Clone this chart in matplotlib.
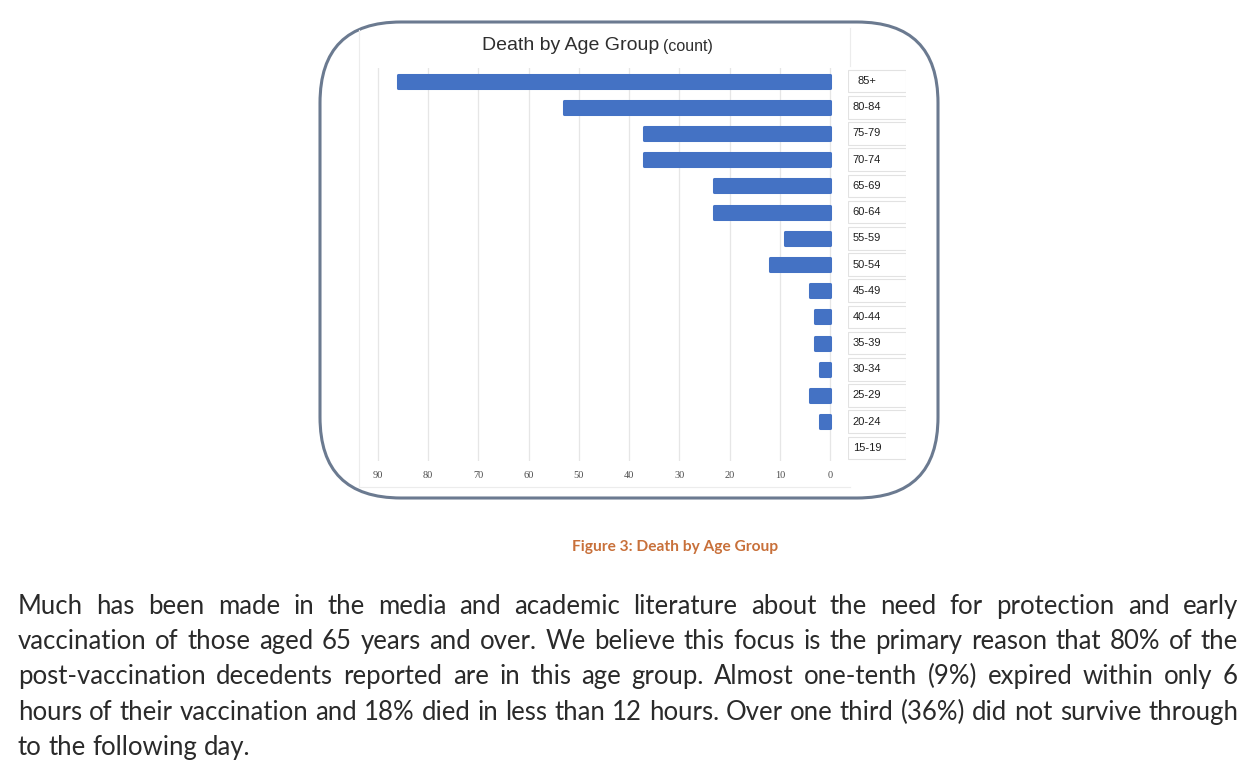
import matplotlib
matplotlib.use("Agg")
import matplotlib.pyplot as plt
from matplotlib.patches import FancyBboxPatch, Rectangle

W, H = 1245, 769

age_groups = ["85+", "80-84", "75-79", "70-74", "65-69", "60-64", "55-59", "50-54",
              "45-49", "40-44", "35-39", "30-34", "25-29", "20-24", "15-19"]
deaths = [86, 53, 37, 37, 23, 23, 9, 12, 4, 3, 3, 2, 4, 2, 0]
ticks = [90, 80, 70, 60, 50, 40, 30, 20, 10, 0]

caption = "Figure 3: Death by Age Group"
body_lines = [
    "Much has been made in the media and academic literature about the need for protection and early",
    "vaccination of those aged 65 years and over. We believe this focus is the primary reason that 80% of the",
    "post-vaccination decedents reported are in this age group. Almost one-tenth (9%) expired within only 6",
    "hours of their vaccination and 18% died in less than 12 hours. Over one third (36%) did not survive through",
    "to the following day.",
]

fig = plt.figure(figsize=(W / 100, H / 100), dpi=100)
r = fig.canvas.get_renderer()


def fx(px):
    return px / W


def fy(py):
    return 1 - py / H


def px_axes(x0, y0, x1, y1):
    return fig.add_axes([fx(x0), fy(y1), fx(x1) - fx(x0), fy(y0) - fy(y1)])


def text_width(s, **kw):
    t = fig.text(0, 0, s, **kw)
    w = t.get_window_extent(r).width
    t.remove()
    return w


# rounded frame round the chart
frame = FancyBboxPatch((fx(320), fy(498)), fx(938) - fx(320), fy(22) - fy(498),
                       boxstyle="round,pad=0,rounding_size=0.065",
                       transform=fig.transFigure, facecolor="white",
                       edgecolor="#6b7a90", linewidth=2.2, mutation_aspect=W / H,
                       zorder=-5)
fig.patches.append(frame)

# faint chart-area borders
fig.add_artist(plt.Line2D([fx(359), fx(359)], [fy(30), fy(487)], color="#ececec", lw=0.8))
fig.add_artist(plt.Line2D([fx(359), fx(850)], [fy(487), fy(487)], color="#ececec", lw=0.8))
fig.add_artist(plt.Line2D([fx(850), fx(850)], [fy(28), fy(66)], color="#ececec", lw=0.8))

# bar chart
ax = px_axes(359, 68, 848, 461)
ax.patch.set_alpha(0)
x0_px, x90_px = 830, 378
per_unit = (x0_px - x90_px) / 90
ax.set_xlim(90 + (x90_px - 359) / per_unit, -(848 - x0_px) / per_unit)
ax.set_ylim(len(age_groups) - 0.5, -0.5)
ax.barh(range(len(age_groups)), deaths, height=0.5, color="#4472c4",
        edgecolor="#4472c4", linewidth=[2.2 if d > 0 else 0 for d in deaths],
        joinstyle="round", zorder=3)
ax.set_xticks(ticks)
ax.set_xticklabels([str(t) for t in ticks], fontsize=7.5, family="Liberation Serif",
                   color="#4d4d4d")
ax.tick_params(axis="x", length=0, pad=7)
ax.set_yticks([])
ax.grid(axis="x", color="#e6e6e6", lw=0.9, zorder=0)
for s in ax.spines.values():
    s.set_visible(False)

# label boxes on the right
lax = px_axes(848, 68, 906, 461)
lax.patch.set_alpha(0)
lax.set_xlim(0, 1)
lax.set_ylim(len(age_groups) - 0.5, -0.5)
lax.axis("off")
for i, lab in enumerate(age_groups):
    lax.add_patch(Rectangle((0.0, i - 0.43), 1.0, 0.86, facecolor="white",
                            edgecolor="#e2e2e2", lw=0.8))
    lax.text(0.08 if lab != "85+" else 0.16, i, lab, va="center", ha="left",
             fontsize=8, family="Liberation Sans", color="#1f1f1f")

# title
t1 = fig.text(fx(482), fy(46), "Death by Age Group", fontsize=14,
              family="Liberation Sans", color="#2e2e2e", va="center", ha="left")
bb = t1.get_window_extent(r)
fig.text(fx(bb.x1 + 4), fy(47), "(count)", fontsize=11.5, family="Liberation Sans",
         color="#2e2e2e", va="center", ha="left")

# caption
fig.text(fx(675), fy(547), caption, fontsize=11.2, family="Lato", weight="bold",
         color="#c8703a", ha="center", va="center")

# justified paragraph; font size fitted so the tightest line fills the width
left, right = 18, 1238
line_base = [614, 649, 684, 720, 755]
base = 15.0
widest = max(text_width(l, fontsize=base, family="Lato") for l in body_lines[:-1])
fsize = base * (right - left - 6) / widest
space = text_width("a a", fontsize=fsize, family="Lato") - \
    2 * text_width("a", fontsize=fsize, family="Lato")
for k, line in enumerate(body_lines):
    words = line.split(" ")
    widths = [text_width(w, fontsize=fsize, family="Lato") for w in words]
    if k < len(body_lines) - 1:
        gap = (right - left - sum(widths)) / (len(words) - 1)
    else:
        gap = space
    x = left
    for w, wd in zip(words, widths):
        fig.text(fx(x), fy(line_base[k]), w, fontsize=fsize, family="Lato",
                 color="#2a2a2a", va="baseline", ha="left")
        x += wd + gap

fig.savefig("out.png", dpi=100, facecolor="white")
